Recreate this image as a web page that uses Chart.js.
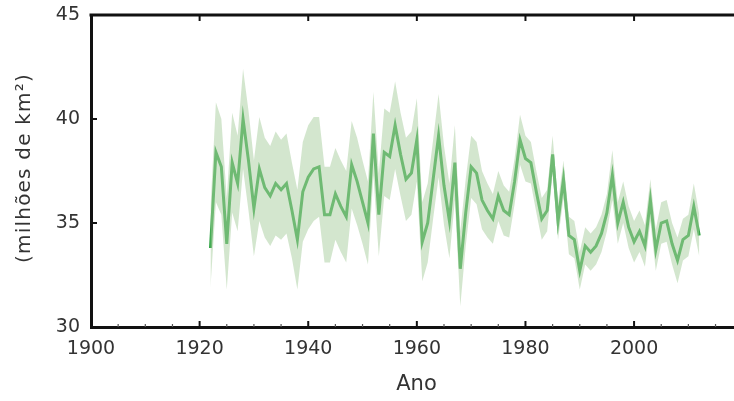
<!DOCTYPE html>
<html><head><meta charset="utf-8">
<script src="https://cdn.jsdelivr.net/npm/chart.js@4.4.1/dist/chart.umd.min.js"></script>
<style>html,body{margin:0;padding:0;background:#fff}#wrap{width:734px;height:401px;position:relative}</style>
</head><body><div id="wrap"><canvas id="c" width="734" height="401"></canvas></div>
<script>
const years = [];
for (let y = 1922; y <= 2012; y++) years.push(y);
const area = [
33.8,38.4,37.7,34.0,37.9,36.9,40.0,38.0,35.7,37.6,
36.7,36.3,36.9,36.6,36.9,35.6,34.2,36.5,37.2,37.6,
37.7,35.4,35.4,36.4,35.8,35.3,37.8,37.0,36.0,35.0,
39.3,35.4,38.4,38.2,39.7,38.3,37.1,37.4,39.0,34.1,
35.0,37.1,39.2,36.8,35.1,37.9,32.8,35.5,37.7,37.4,
36.1,35.6,35.2,36.3,35.6,35.4,37.0,39.0,38.1,37.9,
36.5,35.2,35.6,38.3,35.1,37.1,34.4,34.2,32.7,33.9,
33.6,33.9,34.5,35.5,37.3,35.0,36.0,34.8,34.1,34.6,
33.9,36.1,33.7,35.0,35.1,34.0,33.2,34.2,34.4,35.8,
34.4];
const uncertainty = [
1.9,2.4,2.3,2.2,2.4,2.3,2.4,2.4,2.3,2.5,
2.4,2.4,2.5,2.4,2.4,2.3,2.4,2.4,2.5,2.5,
2.4,2.3,2.3,2.2,2.2,2.2,2.1,2.1,2.0,2.0,
2.0,2.0,2.1,2.1,2.1,2.0,2.0,2.0,2.0,1.9,
1.9,1.9,2.0,1.9,1.8,1.8,1.8,1.6,1.5,1.5,
1.4,1.3,1.2,1.2,1.2,1.1,1.1,1.2,1.1,1.0,
1.0,1.0,1.0,0.9,0.9,0.9,0.9,0.9,0.9,0.9,
0.9,0.9,0.9,0.9,1.2,1.0,1.0,1.0,1.0,1.0,
1.0,1.0,1.0,1.0,1.0,1.0,1.1,1.0,1.0,1.1,
1.0];
const xTicks = [1900,1920,1940,1960,1980,2000];
const yTicks = [30,35,40,45];
const xTitle = 'Ano';
const yTitle = '(milhões de km²)';
const xMin = 1900, xMax = 2018.4, yMin = 30, yMax = 45;

const pts = years.map((y,i)=>({x:y,y:area[i]}));
const lo = years.map((y,i)=>({x:y,y:+(area[i]-uncertainty[i]).toFixed(2)}));
const hi = years.map((y,i)=>({x:y,y:+(area[i]+uncertainty[i]).toFixed(2)}));
const FONT = 'DejaVu Sans';

const frame = {
  id:'frame',
  afterDraw(chart){
    const {ctx, chartArea:a, scales:{x,y}} = chart;
    ctx.save();
    ctx.strokeStyle = '#111';
    ctx.lineWidth = 3;
    ctx.beginPath();
    ctx.moveTo(a.left-1.5, a.top); ctx.lineTo(a.right, a.top);
    ctx.stroke();
    ctx.lineWidth = 2;
    xTicks.forEach(v=>{
      const px = x.getPixelForValue(v);
      ctx.beginPath(); ctx.moveTo(px, a.bottom); ctx.lineTo(px, a.bottom-6); ctx.stroke();
      ctx.beginPath(); ctx.moveTo(px, a.top); ctx.lineTo(px, a.top+6); ctx.stroke();
    });
    ctx.lineWidth = 1.2;
    ctx.strokeStyle = '#555';
    for (let v = 1905; v < xMax; v += 5) {
      if (v % 20 === 0) continue;
      const px = x.getPixelForValue(v);
      ctx.beginPath(); ctx.moveTo(px, a.bottom); ctx.lineTo(px, a.bottom-3); ctx.stroke();
    }
    ctx.strokeStyle = '#111';
    ctx.lineWidth = 2;
    yTicks.forEach(v=>{
      const py = y.getPixelForValue(v);
      ctx.beginPath(); ctx.moveTo(a.left, py); ctx.lineTo(a.left+6, py); ctx.stroke();
    });
    ctx.fillStyle = '#333';
    ctx.textAlign = 'center';
    ctx.textBaseline = 'middle';
    ctx.font = '21px "' + FONT + '"';
    ctx.fillText(xTitle, (a.left + a.right)/2 + 4, 385);
    ctx.save();
    ctx.translate(25, (y.getPixelForValue(yMin)+y.getPixelForValue(yMax))/2 - 3);
    ctx.rotate(-Math.PI/2);
    ctx.font = '20px "' + FONT + '"';
    try { ctx.letterSpacing = '1.2px'; } catch(e) {}
    ctx.fillText(yTitle, 0, 0);
    ctx.restore();
    ctx.restore();
  }
};

new Chart(document.getElementById('c'), {
  type:'line',
  data:{datasets:[
    {data:lo, borderWidth:0, pointRadius:0, fill:false, borderColor:'rgba(0,0,0,0)', tension:0},
    {data:hi, borderWidth:0, pointRadius:0, fill:'-1', backgroundColor:'rgba(168,206,158,0.5)', borderColor:'rgba(0,0,0,0)', tension:0},
    {data:pts, borderWidth:3, pointRadius:0, fill:false, borderColor:'#36a649', tension:0}
  ]},
  options:{
    responsive:false, animation:false,
    layout:{padding:{top:15,right:0,left:0,bottom:0}},
    plugins:{legend:{display:false}, tooltip:{enabled:false}},
    scales:{
      x:{type:'linear', min:xMin, max:xMax,
        afterBuildTicks(s){ s.ticks = xTicks.map(v=>({value:v})); },
        afterFit(s){ s.height = 74; s.paddingLeft = 0; s.paddingRight = 0; },
        grid:{display:false, drawTicks:false},
        border:{display:true, color:'#111', width:3},
        ticks:{padding:11, color:'#333', font:{family:FONT, size:19}, maxRotation:0, callback:v=>String(v)}
      },
      y:{min:yMin, max:yMax,
        afterBuildTicks(s){ s.ticks = yTicks.map(v=>({value:v})); },
        afterFit(s){ s.width = 91; s.paddingTop = 0; s.paddingBottom = 0; },
        grid:{display:false, drawTicks:false},
        border:{display:true, color:'#111', width:3},
        ticks:{padding:11, color:'#333', font:{family:FONT, size:19}}
      }
    }
  },
  plugins:[frame]
});
</script></body></html>
